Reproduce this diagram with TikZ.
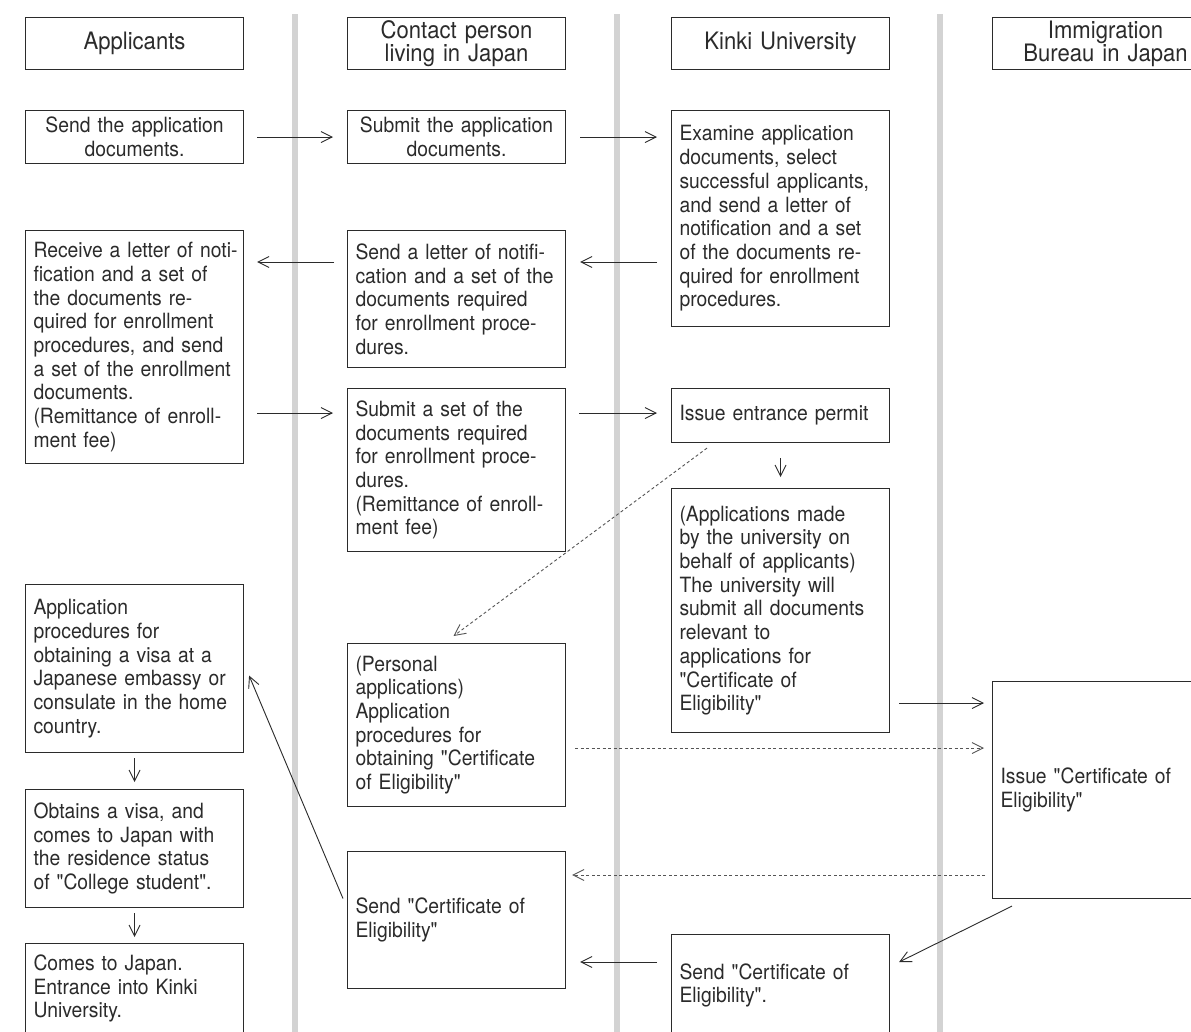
\documentclass[tikz,border=0pt]{standalone}
\usepackage{fontspec}
\setmainfont[FakeStretch=0.92, Ligatures=TeXOff]{TeX Gyre Heros}
\usetikzlibrary{arrows.meta,calc}
\definecolor{ink}{HTML}{2B2B2B}
\definecolor{lane}{HTML}{D3D3D3}
\definecolor{dashc}{HTML}{555555}
\begin{document}
\begin{tikzpicture}[x=1pt,y=-1pt,
  box/.style={draw=ink, line width=1.1pt, rectangle, anchor=north west, inner xsep=8pt, inner ysep=0pt,
    text width=202pt, align=left, font=\fontsize{21}{23.7}\selectfont, text=ink, minimum width=218pt},
  cbox/.style={box, align=center},
  headbox/.style={box, align=center, font=\fontsize{24}{23}\selectfont, minimum height=52pt},
  arr/.style={draw=ink, line width=0.9pt, -{Straight Barb[length=11pt,width=11pt]}},
  darr/.style={arr, draw=dashc, dash pattern=on 3pt off 2.5pt},
  lanel/.style={draw=lane, line width=5.5pt}
]
\useasboundingbox (0,0) rectangle (1191,1031);
\fill[white] (0,0) rectangle (1191,1031);
\clip (0,0) rectangle (1191,1031);

% swimlane separators
\draw[lanel] (295,14) -- (295,1035);
\draw[lanel] (617,14) -- (617,1035);
\draw[lanel] (940,14) -- (940,1035);

% headers
\node[headbox] (H1) at (25,17) {Applicants};
\node[headbox] (H2) at (347,17) {Contact person\\living in Japan};
\node[headbox] (H3) at (671,17) {Kinki University};
\node[headbox, minimum width=226pt, text width=210pt] (H4) at (992,17) {Immigration\\Bureau in Japan};

% applicants
\node[cbox, minimum height=53pt] (A1) at (25,110) {Send the application\\documents.};
\node[box, minimum height=233pt] (A2) at (25,230) {\mbox{Receive a letter of noti-}\\fication and a set of\\the documents re-\\quired for enrollment\\procedures, and send\\a set of the enrollment\\documents.\\(Remittance of enroll-\\ment fee)};
\node[box, minimum height=168pt] (A3) at (25,584) {Application\\procedures for\\obtaining a visa at a\\Japanese embassy or\\consulate in the home\\country.};
\node[box, minimum height=118pt] (A4) at (25,789) {Obtains a visa, and\\comes to Japan with\\the residence status\\of "College student".};
\node[box, minimum height=90pt] (A5) at (25,943) {Comes to Japan.\\Entrance into Kinki\\University.};

% contact person
\node[cbox, minimum height=53pt] (C1) at (347,110) {Submit the application\\documents.};
\node[box, minimum height=137pt] (C2) at (347,230) {\mbox{Send a letter of notifi-}\\\mbox{cation and a set of the}\\documents required\\\mbox{for enrollment proce-}\\dures.};
\node[box, minimum height=163pt] (C3) at (347,388) {Submit a set of the\\documents required\\\mbox{for enrollment proce-}\\dures.\\\mbox{(Remittance of enroll-}\\ment fee)};
\node[box, minimum height=163pt] (C4) at (347,643) {(Personal\\applications)\\Application\\procedures for\\\mbox{obtaining "Certificate}\\of Eligibility"};
\node[box, minimum height=137pt] (C5) at (347,851) {Send "Certificate of\\Eligibility"};

% Kinki University
\node[box, minimum height=216pt] (K1) at (671,110) {Examine application\\documents, select\\\mbox{successful applicants,}\\and send a letter of\\\mbox{notification and a set}\\of the documents re-\\\mbox{quired for enrollment}\\procedures.};
\node[box, minimum height=54pt] (K2) at (671,388) {Issue entrance permit};
\node[box, minimum height=244pt] (K3) at (671,488) {(Applications made\\by the university on\\behalf of applicants)\\The university will\\\mbox{submit all documents}\\relevant to\\applications for\\"Certificate of\\Eligibility"};
\node[box, minimum height=102pt] (K4) at (671,934) {Send "Certificate of\\Eligibility".};

% Immigration
\node[box, minimum height=217pt, minimum width=226pt, text width=210pt] (I1) at (992,681) {Issue "Certificate of\\Eligibility"};

% y levels
\coordinate (ya) at (0,262);
\coordinate (yb) at (0,413);
\coordinate (yc) at (0,703);
\coordinate (yd) at (0,748);
\coordinate (ye) at (0,875);
\coordinate (yf) at (0,962);

% connectors
\draw[arr, shorten <=13pt, shorten >=14pt] (A1.east) -- (C1.west);
\draw[arr, shorten <=14pt, shorten >=14pt] (C1.east) -- (K1.west |- C1.east);
\draw[arr, shorten <=14pt, shorten >=14pt] (K1.west |- ya) -- (C2.east |- ya);
\draw[arr, shorten <=13pt, shorten >=13pt] (C2.west |- ya) -- (A2.east |- ya);
\draw[arr, shorten <=13pt, shorten >=14pt] (A2.east |- yb) -- (C3.west |- yb);
\draw[arr, shorten <=13pt, shorten >=14pt] (C3.east |- yb) -- (K2.west |- yb);
\draw[arr, shorten <=15pt, shorten >=11pt] (K2.south) -- (K3.north);
\draw[arr, shorten <=9pt, shorten >=8pt] (K3.east |- yc) -- (I1.west |- yc);
\draw[arr, shorten <=5pt, shorten >=7pt] (A3.south) -- (A4.north);
\draw[arr, shorten <=5pt, shorten >=6pt] (A4.south) -- (A5.north);
\draw[arr] ($(C5.west)+(-4,-21.5)$) -- ($(A3.east)+(5,7)$);
\draw[arr] ($(I1.south west)+(20,7)$) -- ($(K4.north east)+(9,28)$);
\draw[arr, shorten <=14pt, shorten >=14pt] (K4.west |- yf) -- (C5.east |- yf);
\draw[darr] ($(K2.south west)+(36,5)$) -- ($(C4.north)+(-3,-7)$);
\draw[darr, shorten <=9pt, shorten >=8pt] (C4.east |- yd) -- (I1.west |- yd);
\draw[darr, shorten <=7pt, shorten >=6pt] (I1.west |- ye) -- (C5.east |- ye);
\end{tikzpicture}
\end{document}
